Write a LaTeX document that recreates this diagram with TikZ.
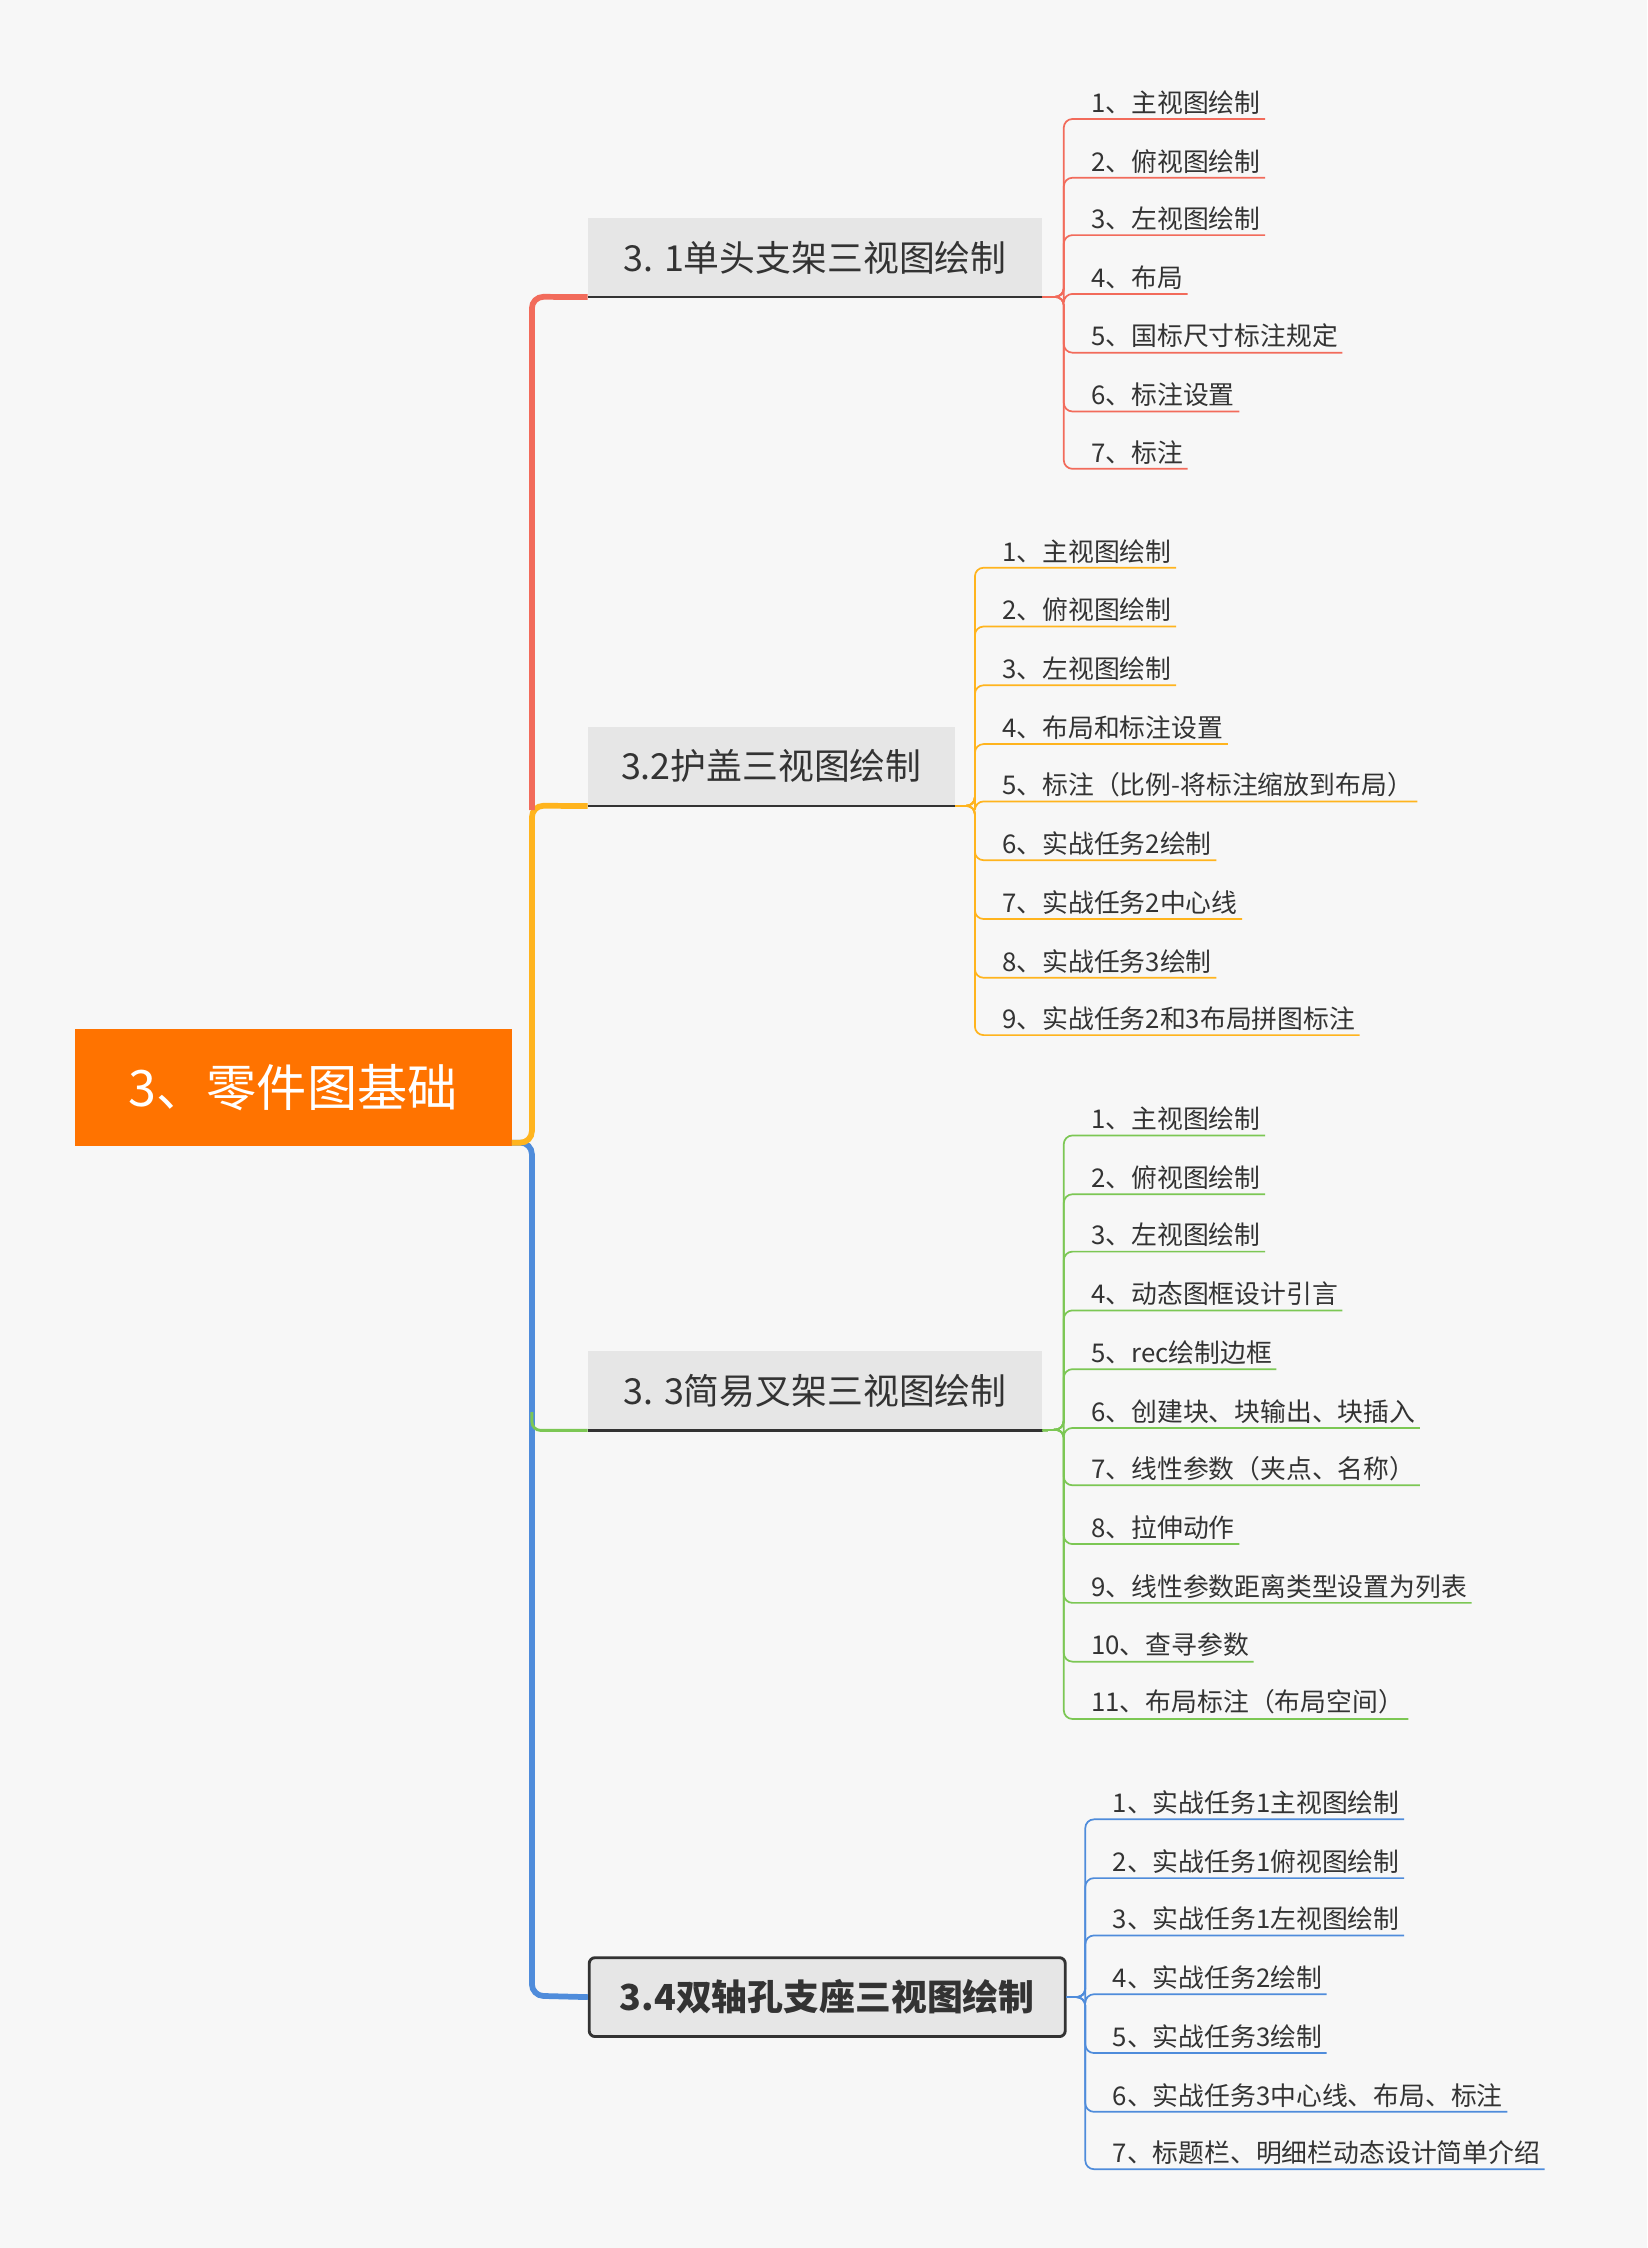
\documentclass[tikz,border=0pt]{standalone}
\usepackage{fontspec}
\setmainfont{Noto Sans CJK SC}
\definecolor{bg}{HTML}{F7F7F7}
\definecolor{cR}{HTML}{F26B5B}
\definecolor{cO}{HTML}{FFB41E}
\definecolor{cG}{HTML}{7CC754}
\definecolor{cB}{HTML}{4F8CDB}
\definecolor{rootc}{HTML}{FF7300}
\definecolor{txt}{HTML}{333333}
\definecolor{boxg}{HTML}{E6E6E6}
\tikzset{
  root/.style={fill=rootc,text=white,minimum width=305pt,minimum height=81pt,font=\fontsize{35}{40}\selectfont,inner sep=0},
  mainbox/.style={fill=boxg,text=txt,minimum height=55pt,font=\fontsize{25}{28}\selectfont,inner sep=0},
  leaf/.style={anchor=south west,text=txt,font=\fontsize{18}{20}\selectfont,inner sep=3pt},
  thick4/.style={line width=4pt,rounded corners=8pt},
  thin/.style={line width=1.2pt},
}
\begin{document}
\begin{tikzpicture}[x=1pt,y=-1pt]
\fill[bg] (0,0) rectangle (1149,1568);
\useasboundingbox (0,0) rectangle (1149,1568);
\node[root] (root) at (204.5,758.5) {3、零件图基础};
\node[mainbox,minimum width=317pt] (b1) at (568.5,179.5) {3. 1单头支架三视图绘制};
\node[mainbox,minimum width=256pt] (b2) at (538,534.5) {3.2护盖三视图绘制};
\node[mainbox,minimum width=317pt] (b3) at (568.5,970) {3. 3简易叉架三视图绘制};
\node[mainbox,minimum width=332pt,draw=txt,line width=2pt,rounded corners=4pt,font=\bfseries\fontsize{25}{28}\selectfont,fill=boxg] (b4) at (577,1393) {3.4双轴孔支座三视图绘制};
\coordinate (rc) at (357,797);
\draw[cB,thick4] (rc) -| (371,1392) -- (b4.west);
\draw[cO,thick4] (rc) -| (371,562) -- (b2.south west);
\draw[cR,thick4] (371,565) -- (371,207) -- (b1.south west);
\draw[cG,line width=2pt,rounded corners=6pt] (371,985) |- (b3.south west);
\foreach \b in {b1,b2,b3}{\draw[txt,line width=2pt] (\b.south west) -- (\b.south east);}
\foreach \yy/\tt [count=\i] in {67/1、主视图绘制,108/2、俯视图绘制,148/3、左视图绘制,189/4、布局,230/5、国标尺寸标注规定,271/6、标注设置,311/7、标注}{
  \node[leaf] (a\i) at (758,\yy+16) {\tt};
  \draw[cR,thin,rounded corners=6pt] (b1.south east) -- (742,207) -- (742,\yy+16) -- (a\i.south east);}
\foreach \yy/\tt [count=\i] in {380/1、主视图绘制,421/2、俯视图绘制,462/3、左视图绘制,503/4、布局和标注设置,543/5、标注（比例-将标注缩放到布局）,584/6、实战任务2绘制,625/7、实战任务2中心线,666/8、实战任务3绘制,706/9、实战任务2和3布局拼图标注}{
  \node[leaf] (c\i) at (696,\yy+16) {\tt};
  \draw[cO,thin,rounded corners=6pt] (b2.south east) -- (680,562) -- (680,\yy+16) -- (c\i.south east);}
\foreach \yy/\tt [count=\i] in {776/1、主视图绘制,817/2、俯视图绘制,857/3、左视图绘制,898/4、动态图框设计引言,939/5、rec绘制边框,980/6、创建块、块输出、块插入,1020/7、线性参数（夹点、名称）,1061/8、拉伸动作,1102/9、线性参数距离类型设置为列表,1143/10、查寻参数,1183/11、布局标注（布局空间）}{
  \node[leaf] (d\i) at (758,\yy+16) {\tt};
  \draw[cG,thin,rounded corners=6pt] (b3.south east) -- (742,997) -- (742,\yy+16) -- (d\i.south east);}
\foreach \yy/\tt [count=\i] in {1253/1、实战任务1主视图绘制,1294/2、实战任务1俯视图绘制,1334/3、实战任务1左视图绘制,1375/4、实战任务2绘制,1416/5、实战任务3绘制,1457/6、实战任务3中心线、布局、标注,1497/7、标题栏、明细栏动态设计简单介绍}{
  \node[leaf] (e\i) at (773,\yy+16) {\tt};
  \draw[cB,thin,rounded corners=6pt] (b4.east) -- (757,1393) -- (757,\yy+16) -- (e\i.south east);}
\end{tikzpicture}
\end{document}
